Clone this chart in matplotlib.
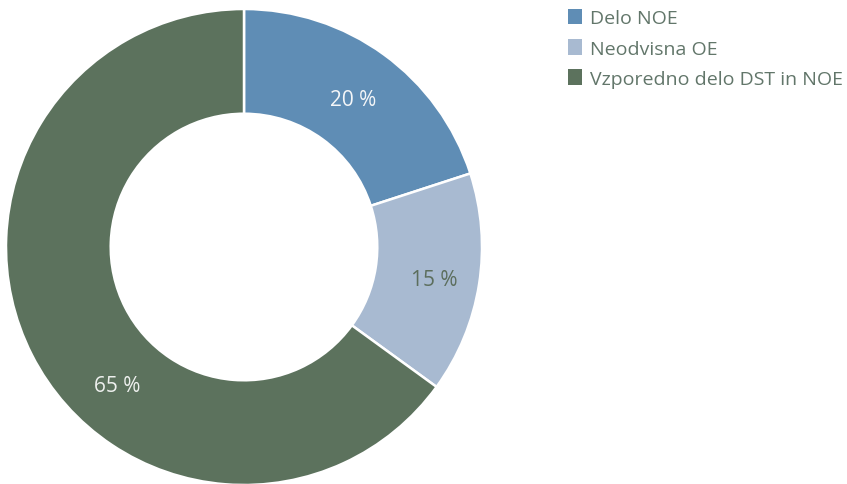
import matplotlib.pyplot as plt
from matplotlib.patches import Patch
import numpy as np

labels = ['Delo NOE', 'Neodvisna OE', 'Vzporedno delo DST in NOE']
values = [20, 15, 65]
colors = ['#5f8db5', '#a8bad1', '#5c725d']
label_colors = ['#f4f6f8', '#5c6e5d', '#eef0ee']

plt.rcParams['font.family'] = ['Open Sans', 'DejaVu Sans']

fig = plt.figure(figsize=(8.47, 4.85), dpi=100)
ax = fig.add_axes([6 / 847, -1 / 485, 476 / 847, 476 / 485])

wedges, _ = ax.pie(values, colors=colors, startangle=90, counterclock=False,
                   wedgeprops=dict(width=0.44, edgecolor='white', linewidth=1.8))
ax.set_xlim(-1, 1)
ax.set_ylim(-1, 1)

# label positions: mid-angle of each wedge, last one pulled lower
total = sum(values)
start = 90
radii = [0.78, 0.81, 0.78]
for i, v in enumerate(values):
    mid = start - v / total * 360 / 2
    start -= v / total * 360
    if i == 2:
        mid = -133
    r = radii[i]
    ax.text(r * np.cos(np.radians(mid)), r * np.sin(np.radians(mid)) - 0.01, f'{v} %',
            ha='center', va='center', fontsize=15, color=label_colors[i])

handles = [Patch(facecolor=c, edgecolor='none') for c in colors]
fig.legend(handles, labels, loc='upper left', bbox_to_anchor=(564 / 847, 1 - 6 / 485),
           frameon=False, fontsize=14, labelcolor='#62766a',
           handlelength=0.75, handleheight=0.85, handletextpad=0.4,
           labelspacing=0.6, borderpad=0.2, borderaxespad=0)

fig.savefig('out.png', dpi=100)
